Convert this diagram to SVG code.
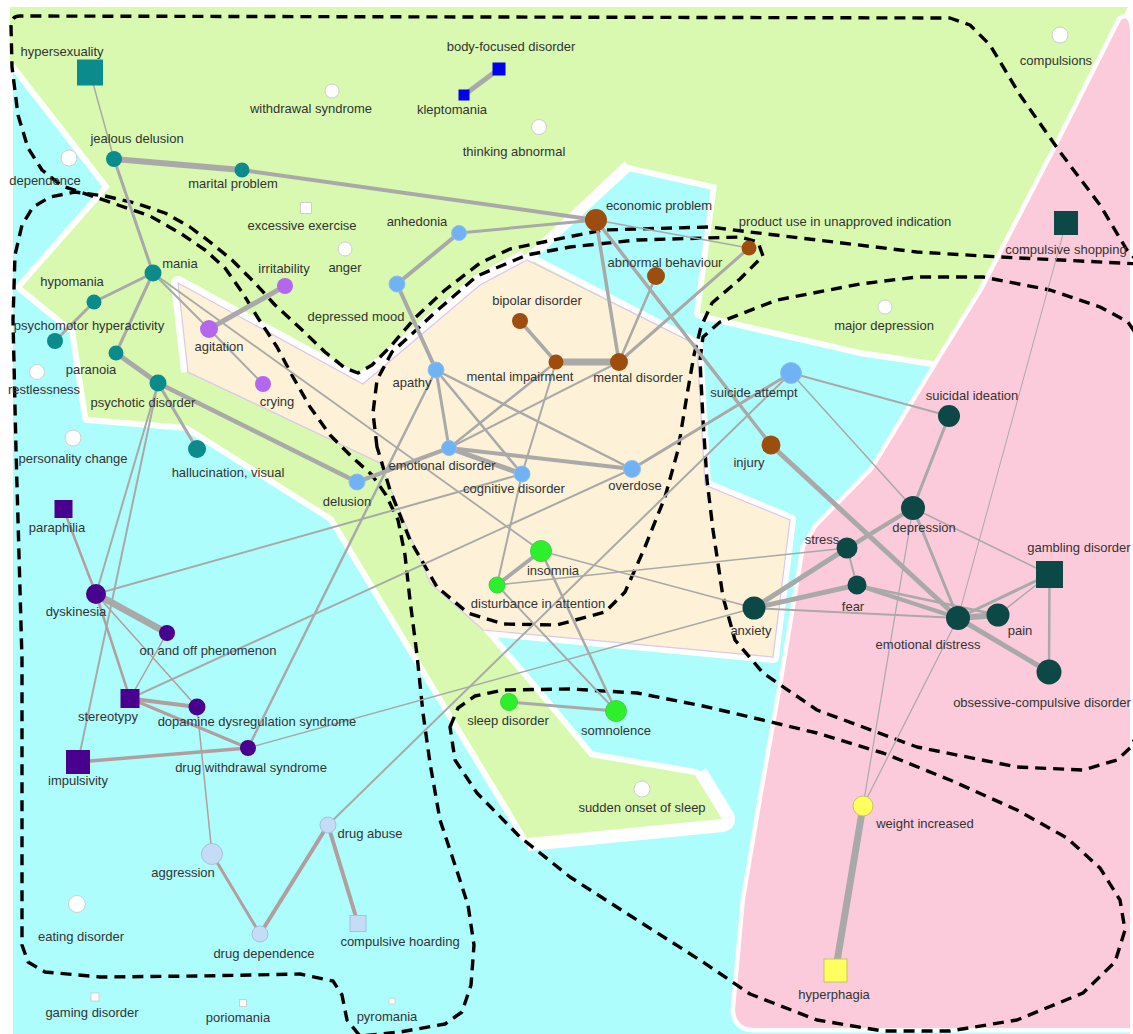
<svg xmlns="http://www.w3.org/2000/svg" width="1133" height="1034" viewBox="0 0 1133 1034">
<defs>
<style>
.cyan{fill:#aefdfd}
.green{fill:#d9f9b1}
.beige{fill:#fdf2d7;stroke:#dcc6ea;stroke-width:1.2}
.pink{fill:#fccbdb;stroke:#fff;stroke-width:9;paint-order:stroke;stroke-linejoin:round}
.halo{fill:none;stroke:#fff;stroke-linejoin:round}
.dash{fill:none;stroke:#000;stroke-width:3.4;stroke-dasharray:11 7;stroke-linejoin:round}
.e line{stroke:#a9a9a9;stroke-linecap:round}
line.p{stroke:#b29e9e}
text{font-family:"Liberation Sans",Arial,sans-serif;font-size:13px;fill:#333;text-anchor:middle}
.teal{fill:#0b8b8b}
.dk{fill:#0c4845}
.brown{fill:#9d4d0d}
.lb{fill:#70b2f3;stroke:#8ec0ee;stroke-width:1}
.pur{fill:#b467ee}
.ind{fill:#4a008e}
.grn{fill:#2cf02c;stroke:#44d044;stroke-width:1}
.wht{fill:#fff;stroke:#cfcfcf;stroke-width:1}
.lb2{fill:#c5dcf7;stroke:#a7c0de;stroke-width:1}
.yel{fill:#ffff5e;stroke:#c8c46a;stroke-width:1}
.blu{fill:#0000ef}
</style>
</defs>

<g id="regions">
<rect class="cyan" x="13" y="7" width="1117" height="1027"/>
<polygon class="halo" stroke-width="12" points="10,7 1128,7 1057,147 983,290 940,362 860,350 700,313 717,185 628,165 527,258 697,345 705,485 790,520 773,657 483,630 530,685 590,757 695,775 722,819 527,838 333,517 187,425 88,417 75,330 22,287 110,187 13,62 10,62"/>
<polyline class="halo" stroke-width="26" points="695,775 722,819 527,838"/>
<polygon class="green" points="10,7 1128,7 1057,147 983,290 940,362 860,350 700,313 717,185 628,165 527,258 697,345 705,485 790,520 773,657 483,630 530,685 590,757 695,775 722,819 527,838 333,517 187,425 88,417 75,330 22,287 110,187 13,62 10,62"/>
<path class="pink" d="M1121,20 L1057,147 L983,290 L938,363 L873,470 L817,527 L805,547 L783,680 L763,793 L745,900 L735,1010 Q736,1028 755,1028 L1130,1028 L1130,34 Q1130,14 1121,20 Z"/>
<polyline class="halo" stroke-width="14" points="188,372 178,283 363,384"/>
<polyline class="halo" stroke-width="22" points="363,384 480,285 527,260"/>
<polyline class="halo" stroke-width="10" points="527,260 628,165"/>
<polygon class="beige" points="178,283 363,384 480,285 527,260 697,345 705,485 790,520 773,657 483,630 430,583 387,480 380,463 188,372"/>
</g>

<g id="dashed-sets">
<path class="dash" d="M1140,264 L1127,250 L1100,205 L1060,152 L1020,95 L990,45 L970,25 L950,18 L20,16 Q11,16 11,26 L12,67 L18,115 L28,148 L42,170 L62,186 L95,197 L150,216 L180,233 L205,250 L225,268 L242,292 L258,318 L277,347 L293,377 L310,407 L330,435 L352,457 L372,475 L386,495 L398,520 L405,555 L410,600 L417,655 L423,713 L430,763 L440,820 L455,865 L468,905 L474,945 L471,985 L462,1012 L445,1024 L400,1032 L360,1036 L347,1020 L342,995 L333,981 L300,974 L200,976 L100,977 L45,972 L28,962 L22,945 L22,660 L16,450 L13,320 L15,255 L22,225 L33,207 L50,197 L75,192 L105,196 L135,203 L165,213 L190,227 L210,242 L232,260 L255,283 L275,305 L300,328 L325,352 L345,368 L358,373 L372,365 L390,347 L415,318 L445,290 L480,263 L510,249 L553,240 L603,230 L710,227 L750,232 L817,240 L917,252 L1000,257 L1140,264"/>
<path class="dash" d="M377,447 L373,413 L377,380 L392,352 L413,333 L440,308 L477,276 L527,255 L570,247 L637,240 L740,237 L758,242 L763,256 L740,279 L712,303 L701,327 L694,355 L687,395 L678,450 L665,497 L645,547 L625,592 L605,612 L557,625 L503,624 L468,613 L437,587 L410,540 L390,490 Z"/>
<path class="dash" d="M700,360 L703,337 L720,322 L777,300 L860,284 L917,277 L983,277 L1050,290 L1100,307 L1128,322 L1140,340 L1140,730 L1130,748 L1117,760 L1083,770 L1017,767 L917,747 L817,710 L763,673 L735,640 L723,597 L713,530 L707,480 L703,420 Z"/>
<path class="dash" d="M450,727 L458,708 L475,696 L503,690 L570,689 L637,693 L703,706 L750,717 L817,733 L883,753 L950,780 L1017,810 L1067,838 L1100,868 L1120,900 L1125,930 L1115,962 L1083,993 L1017,1020 L950,1031 L883,1031 L817,1020 L750,994 L703,962 L637,920 L570,877 L520,837 L477,793 L455,760 Z"/>
</g>

<g id="connectors" class="e">
<line x1="90" y1="72.5" x2="114" y2="159" stroke-width="1.5"/>
<line x1="114" y1="159" x2="242" y2="170" stroke-width="6"/>
<line x1="242" y1="170" x2="596" y2="220" stroke-width="4"/>
<line x1="114" y1="159" x2="153" y2="273" stroke-width="3"/>
<line x1="464" y1="95" x2="499" y2="69" stroke-width="5"/>
<line x1="153" y1="273" x2="94" y2="302" stroke-width="3"/>
<line x1="94" y1="302" x2="55" y2="341" stroke-width="3"/>
<line x1="153" y1="273" x2="116" y2="353" stroke-width="3"/>
<line x1="153" y1="273" x2="209" y2="329" stroke-width="2"/>
<line x1="153" y1="273" x2="541" y2="551" stroke-width="1.8"/>
<line x1="285" y1="286" x2="209" y2="329" stroke-width="5"/>
<line x1="209" y1="329" x2="263" y2="384" stroke-width="2"/>
<line x1="116" y1="353" x2="158" y2="383" stroke-width="5"/>
<line x1="158" y1="383" x2="197" y2="449" stroke-width="3"/>
<line x1="158" y1="383" x2="357" y2="482" stroke-width="4.5"/>
<line x1="158" y1="383" x2="96" y2="594" stroke-width="2"/>
<line x1="158" y1="383" x2="78" y2="762" stroke-width="2"/>
<line x1="357" y1="482" x2="449" y2="448" stroke-width="4"/>
<line x1="436" y1="370" x2="397" y2="284" stroke-width="4"/>
<line x1="397" y1="284" x2="459" y2="233" stroke-width="4"/>
<line x1="459" y1="233" x2="596" y2="220" stroke-width="3"/>
<line x1="596" y1="220" x2="749" y2="248" stroke-width="1.5"/>
<line x1="596" y1="220" x2="619" y2="362" stroke-width="3.5"/>
<line x1="596" y1="220" x2="771" y2="445" stroke-width="3.5"/>
<line x1="656" y1="276" x2="619" y2="362" stroke-width="2.5"/>
<line x1="749" y1="248" x2="619" y2="362" stroke-width="3"/>
<line x1="520" y1="321" x2="556" y2="362" stroke-width="3.5"/>
<line x1="556" y1="362" x2="619" y2="362" stroke-width="7"/>
<line x1="556" y1="362" x2="449" y2="448" stroke-width="2.5"/>
<line x1="556" y1="362" x2="522" y2="474" stroke-width="2"/>
<line x1="619" y1="362" x2="449" y2="448" stroke-width="2"/>
<line x1="436" y1="370" x2="449" y2="448" stroke-width="3"/>
<line x1="436" y1="370" x2="522" y2="474" stroke-width="2.5"/>
<line x1="436" y1="370" x2="632" y2="469" stroke-width="2.5"/>
<line x1="436" y1="370" x2="248" y2="748" stroke-width="2.5"/>
<line x1="449" y1="448" x2="522" y2="474" stroke-width="5"/>
<line x1="449" y1="448" x2="632" y2="469" stroke-width="4"/>
<line x1="632" y1="469" x2="791" y2="373" stroke-width="3"/>
<line x1="522" y1="474" x2="497" y2="585" stroke-width="2"/>
<line x1="96" y1="594" x2="522" y2="474" stroke-width="2"/>
<line x1="130" y1="698.5" x2="632" y2="469" stroke-width="2"/>
<line x1="328" y1="825" x2="791" y2="373" stroke-width="2"/>
<line x1="248" y1="748" x2="754" y2="608" stroke-width="1.5"/>
<line x1="541" y1="551" x2="497" y2="585" stroke-width="4"/>
<line x1="541" y1="551" x2="754" y2="608" stroke-width="1.5"/>
<line x1="541" y1="551" x2="616" y2="711" stroke-width="2.5"/>
<line x1="497" y1="585" x2="847" y2="548" stroke-width="1.5"/>
<line x1="497" y1="585" x2="616" y2="711" stroke-width="2"/>
<line x1="509" y1="702" x2="616" y2="711" stroke-width="3"/>
<line x1="791" y1="373" x2="949" y2="416" stroke-width="2"/>
<line x1="791" y1="373" x2="913" y2="508" stroke-width="1.5"/>
<line x1="949" y1="416" x2="913" y2="508" stroke-width="3"/>
<line x1="771" y1="445" x2="958" y2="618" stroke-width="5"/>
<line x1="958" y1="618" x2="1049" y2="672" stroke-width="5"/>
<line x1="847" y1="548" x2="913" y2="508" stroke-width="4"/>
<line x1="754" y1="608" x2="847" y2="548" stroke-width="5"/>
<line x1="754" y1="608" x2="913" y2="508" stroke-width="3"/>
<line x1="754" y1="608" x2="857" y2="585" stroke-width="5"/>
<line x1="754" y1="608" x2="958" y2="618" stroke-width="2"/>
<line x1="847" y1="548" x2="857" y2="585" stroke-width="2"/>
<line x1="857" y1="585" x2="958" y2="618" stroke-width="4"/>
<line x1="857" y1="585" x2="998" y2="615" stroke-width="2.5"/>
<line x1="958" y1="618" x2="998" y2="615" stroke-width="6"/>
<line x1="998" y1="615" x2="1049.5" y2="574.5" stroke-width="1.5"/>
<line x1="958" y1="618" x2="1049.5" y2="574.5" stroke-width="3"/>
<line x1="913" y1="508" x2="1049.5" y2="574.5" stroke-width="1.5"/>
<line x1="913" y1="508" x2="958" y2="618" stroke-width="3"/>
<line x1="1049.5" y1="574.5" x2="1049" y2="672" stroke-width="2.5"/>
<line x1="1066" y1="223" x2="958" y2="618" stroke-width="1"/>
<line x1="913" y1="508" x2="863" y2="806" stroke-width="1.2"/>
<line x1="958" y1="618" x2="863" y2="806" stroke-width="1.2"/>
<line x1="863" y1="806" x2="835.5" y2="970.5" stroke-width="7"/>
<line class="p" x1="96" y1="594" x2="63.5" y2="509" stroke-width="2.5"/>
<line x1="96" y1="594" x2="167" y2="633" stroke-width="7"/>
<line class="p" x1="96" y1="594" x2="130" y2="698.5" stroke-width="2.5"/>
<line class="p" x1="96" y1="594" x2="197" y2="707" stroke-width="1.5"/>
<line class="p" x1="167" y1="633" x2="130" y2="698.5" stroke-width="1.5"/>
<line class="p" x1="130" y1="698.5" x2="197" y2="707" stroke-width="4"/>
<line class="p" x1="130" y1="698.5" x2="248" y2="748" stroke-width="3"/>
<line class="p" x1="78" y1="762" x2="248" y2="748" stroke-width="3.5"/>
<line class="p" x1="197" y1="707" x2="212" y2="854" stroke-width="1.5"/>
<line class="p" x1="212" y1="854" x2="260" y2="934" stroke-width="3"/>
<line class="p" x1="260" y1="934" x2="328" y2="825" stroke-width="4"/>
<line class="p" x1="328" y1="825" x2="358" y2="923.5" stroke-width="4"/>
</g>

<g id="nodes">
<g id="n-hypersexuality"><rect class="teal" x="77" y="59.5" width="26" height="26"/><text x="62" y="56">hypersexuality</text></g>
<g id="n-withdrawal-syndrome"><circle class="wht" cx="332" cy="91" r="7"/><text x="311" y="113">withdrawal syndrome</text></g>
<g id="n-body-focused-disorder"><rect class="blu" x="492.5" y="62.5" width="13" height="13"/><text x="511" y="51">body-focused disorder</text></g>
<g id="n-kleptomania"><rect class="blu" x="458.5" y="89.5" width="11" height="11"/><text x="452" y="114">kleptomania</text></g>
<g id="n-thinking-abnormal"><circle class="wht" cx="539" cy="127" r="7.5"/><text x="514" y="156">thinking abnormal</text></g>
<g id="n-compulsions"><circle class="wht" cx="1060" cy="35" r="8"/><text x="1056" y="65">compulsions</text></g>
<g id="n-dependence"><circle class="wht" cx="69" cy="158" r="8"/><text x="45" y="185">dependence</text></g>
<g id="n-jealous-delusion"><circle class="teal" cx="114" cy="159" r="8"/><text x="137" y="143">jealous delusion</text></g>
<g id="n-marital-problem"><circle class="teal" cx="242" cy="170" r="7.5"/><text x="233" y="188">marital problem</text></g>
<g id="n-excessive-exercise"><rect class="wht" x="300.5" y="202.5" width="11" height="11"/><text x="302" y="230">excessive exercise</text></g>
<g id="n-anger"><circle class="wht" cx="345" cy="249" r="7"/><text x="345" y="272">anger</text></g>
<g id="n-economic-problem"><circle class="brown" cx="596" cy="220" r="11"/><text x="659" y="210">economic problem</text></g>
<g id="n-anhedonia"><circle class="lb" cx="459" cy="233" r="7.5"/><text x="417" y="226">anhedonia</text></g>
<g id="n-product-use"><circle class="brown" cx="749" cy="248" r="7.5"/><text x="845" y="226">product use in unapproved indication</text></g>
<g id="n-compulsive-shopping"><rect class="dk" x="1054" y="211" width="24" height="24"/><text x="1066" y="254">compulsive shopping</text></g>
<g id="n-abnormal-behaviour"><circle class="brown" cx="656" cy="276" r="9"/><text x="665" y="267">abnormal behaviour</text></g>
<g id="n-mania"><circle class="teal" cx="153" cy="273" r="8.5"/><text x="180" y="268">mania</text></g>
<g id="n-irritability"><circle class="pur" cx="285" cy="286" r="8"/><text x="284" y="273">irritability</text></g>
<g id="n-depressed-mood"><circle class="lb" cx="397" cy="284" r="8"/><text x="356" y="321">depressed mood</text></g>
<g id="n-major-depression"><circle class="wht" cx="885" cy="307" r="7"/><text x="884" y="330">major depression</text></g>
<g id="n-bipolar-disorder"><circle class="brown" cx="520" cy="321" r="8"/><text x="537" y="305">bipolar disorder</text></g>
<g id="n-hypomania"><circle class="teal" cx="94" cy="302" r="7.5"/><text x="72" y="286">hypomania</text></g>
<g id="n-agitation"><circle class="pur" cx="209" cy="329" r="9"/><text x="219" y="351">agitation</text></g>
<g id="n-psychomotor-hyperactivity"><circle class="teal" cx="55" cy="341" r="8"/><text x="89" y="330">psychomotor hyperactivity</text></g>
<g id="n-paranoia"><circle class="teal" cx="116" cy="353" r="7.5"/><text x="91" y="374">paranoia</text></g>
<g id="n-restlessness"><circle class="wht" cx="37" cy="372" r="7.5"/><text x="44" y="394">restlessness</text></g>
<g id="n-mental-impairment"><circle class="brown" cx="556" cy="362" r="7.5"/><text x="520" y="381">mental impairment</text></g>
<g id="n-mental-disorder"><circle class="brown" cx="619" cy="362" r="9"/><text x="638" y="382">mental disorder</text></g>
<g id="n-apathy"><circle class="lb" cx="436" cy="370" r="8"/><text x="412" y="387">apathy</text></g>
<g id="n-psychotic-disorder"><circle class="teal" cx="158" cy="383" r="8.5"/><text x="143" y="407">psychotic disorder</text></g>
<g id="n-crying"><circle class="pur" cx="263" cy="384" r="8"/><text x="277" y="406">crying</text></g>
<g id="n-suicide-attempt"><circle class="lb" cx="791" cy="373" r="10.5"/><text x="754" y="397">suicide attempt</text></g>
<g id="n-suicidal-ideation"><circle class="dk" cx="949" cy="416" r="11"/><text x="972" y="400">suicidal ideation</text></g>
<g id="n-personality-change"><circle class="wht" cx="73" cy="438" r="8"/><text x="73" y="463">personality change</text></g>
<g id="n-injury"><circle class="brown" cx="771" cy="445" r="9.5"/><text x="749" y="467">injury</text></g>
<g id="n-hallucination-visual"><circle class="teal" cx="197" cy="449" r="9"/><text x="228" y="477">hallucination, visual</text></g>
<g id="n-emotional-disorder"><circle class="lb" cx="449" cy="448" r="7.5"/><text x="442" y="470">emotional disorder</text></g>
<g id="n-delusion"><circle class="lb" cx="357" cy="482" r="8"/><text x="347" y="506">delusion</text></g>
<g id="n-cognitive-disorder"><circle class="lb" cx="522" cy="474" r="8"/><text x="514" y="493">cognitive disorder</text></g>
<g id="n-overdose"><circle class="lb" cx="632" cy="469" r="8.5"/><text x="635" y="490">overdose</text></g>
<g id="n-depression"><circle class="dk" cx="913" cy="508" r="12"/><text x="924" y="532">depression</text></g>
<g id="n-paraphilia"><rect class="ind" x="54.5" y="500" width="18" height="18"/><text x="57" y="532">paraphilia</text></g>
<g id="n-gambling-disorder"><rect class="dk" x="1036" y="561" width="27" height="27"/><text x="1079" y="552">gambling disorder</text></g>
<g id="n-stress"><circle class="dk" cx="847" cy="548" r="10.5"/><text x="822" y="544">stress</text></g>
<g id="n-insomnia"><circle class="grn" cx="541" cy="551" r="10.5"/><text x="553" y="575">insomnia</text></g>
<g id="n-disturbance-in-attention"><circle class="grn" cx="497" cy="585" r="8"/><text x="538" y="608">disturbance in attention</text></g>
<g id="n-fear"><circle class="dk" cx="857" cy="585" r="9.5"/><text x="853" y="611">fear</text></g>
<g id="n-anxiety"><circle class="dk" cx="754" cy="608" r="11.5"/><text x="751" y="635">anxiety</text></g>
<g id="n-pain"><circle class="dk" cx="998" cy="615" r="11.5"/><text x="1020" y="635">pain</text></g>
<g id="n-emotional-distress"><circle class="dk" cx="958" cy="618" r="12"/><text x="928" y="649">emotional distress</text></g>
<g id="n-dyskinesia"><circle class="ind" cx="96" cy="594" r="10"/><text x="76" y="616">dyskinesia</text></g>
<g id="n-on-and-off-phenomenon"><circle class="ind" cx="167" cy="633" r="8"/><text x="208" y="655">on and off phenomenon</text></g>
<g id="n-ocd"><circle class="dk" cx="1049" cy="672" r="12.5"/><text x="1042" y="707">obsessive-compulsive disorder</text></g>
<g id="n-stereotypy"><rect class="ind" x="120.5" y="689" width="19" height="19"/><text x="108" y="721">stereotypy</text></g>
<g id="n-dopamine-dysregulation-syndrome"><circle class="ind" cx="197" cy="707" r="8.5"/><text x="257" y="726">dopamine dysregulation syndrome</text></g>
<g id="n-sleep-disorder"><circle class="grn" cx="509" cy="702" r="8.5"/><text x="508" y="725">sleep disorder</text></g>
<g id="n-somnolence"><circle class="grn" cx="616" cy="711" r="10.5"/><text x="616" y="735">somnolence</text></g>
<g id="n-drug-withdrawal-syndrome"><circle class="ind" cx="248" cy="748" r="8"/><text x="251" y="772">drug withdrawal syndrome</text></g>
<g id="n-impulsivity"><rect class="ind" x="66" y="750" width="24" height="24"/><text x="78" y="785">impulsivity</text></g>
<g id="n-sudden-onset-of-sleep"><circle class="wht" cx="642" cy="789" r="8"/><text x="642" y="812">sudden onset of sleep</text></g>
<g id="n-weight-increased"><circle class="yel" cx="863" cy="806" r="10"/><text x="925" y="828">weight increased</text></g>
<g id="n-drug-abuse"><circle class="lb2" cx="328" cy="825" r="8"/><text x="370" y="838">drug abuse</text></g>
<g id="n-aggression"><circle class="lb2" cx="212" cy="854" r="10.5"/><text x="183" y="877">aggression</text></g>
<g id="n-eating-disorder"><circle class="wht" cx="77" cy="904" r="8.5"/><text x="81" y="941">eating disorder</text></g>
<g id="n-compulsive-hoarding"><rect class="lb2" x="350" y="915.5" width="16" height="16"/><text x="400" y="946">compulsive hoarding</text></g>
<g id="n-drug-dependence"><circle class="lb2" cx="260" cy="934" r="8"/><text x="264" y="958">drug dependence</text></g>
<g id="n-hyperphagia"><rect class="yel" x="824" y="959" width="23" height="23"/><text x="834" y="999">hyperphagia</text></g>
<g id="n-gaming-disorder"><rect class="wht" x="91" y="993" width="8" height="8"/><text x="92" y="1017">gaming disorder</text></g>
<g id="n-poriomania"><rect class="wht" x="239.5" y="999.5" width="7" height="7"/><text x="238" y="1022">poriomania</text></g>
<g id="n-pyromania"><rect class="wht" x="389" y="998" width="6" height="6" rx="1"/><text x="387" y="1021">pyromania</text></g>
</g>
</svg>
